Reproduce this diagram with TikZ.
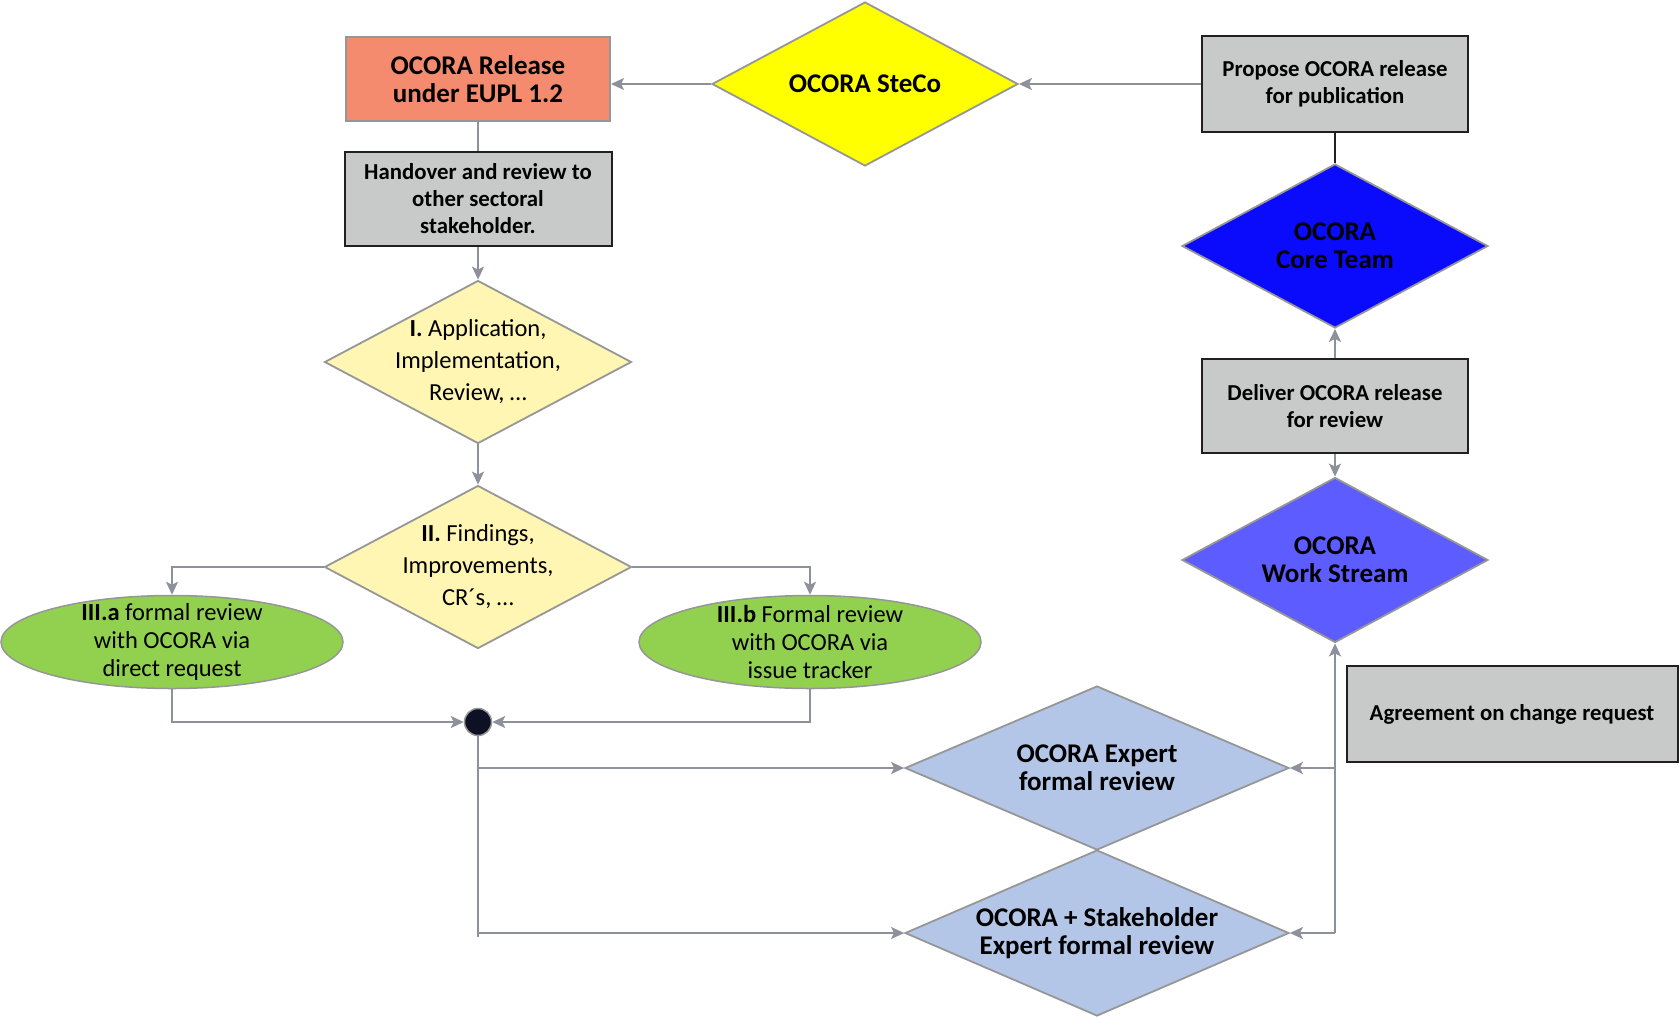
\documentclass[tikz,border=0pt]{standalone}
\usepackage{fontspec}
\setmainfont{Carlito}
\usetikzlibrary{shapes.geometric,arrows.meta}
\definecolor{ocorasalmon}{RGB}{245,139,110}
\definecolor{ocorayellow}{RGB}{255,255,0}
\definecolor{ocoragrey}{RGB}{200,201,201}
\definecolor{ocoradark}{RGB}{35,31,32}
\definecolor{ocoracore}{RGB}{10,10,252}
\definecolor{ocorastream}{RGB}{92,92,255}
\definecolor{ocoraexpert}{RGB}{180,198,231}
\definecolor{ocorapale}{RGB}{255,246,180}
\definecolor{ocoragreen}{RGB}{146,208,80}
\definecolor{ocoraline}{RGB}{140,145,156}
\definecolor{ocorarim}{RGB}{150,150,150}
\definecolor{ocoradot}{RGB}{14,16,36}

\begin{document}
\begin{tikzpicture}[x=1pt, y=-1pt,
    bigbold/.style={font=\fontsize{27}{28}\selectfont\bfseries},
    smallbold/.style={font=\fontsize{22.8}{27}\selectfont\bfseries},
    plaintext/.style={font=\fontsize{24.5}{32}\selectfont},
    greybox/.style={draw=ocoradark, line width=2pt, fill=ocoragrey, align=center, inner sep=0pt, smallbold},
    decision/.style={diamond, draw=ocorarim, line width=1.8pt, align=center, inner sep=-6pt},
    track/.style={ellipse, draw=ocorarim, line width=1.5pt, fill=ocoragreen, align=center, inner sep=-12pt,
        minimum width=342, minimum height=93, font=\fontsize{24.5}{28}\selectfont},
    flow/.style={draw=ocoraline, line width=2pt, -{Stealth[length=13pt, width=12pt, inset=3pt]}},
    link/.style={draw=ocoraline, line width=2pt}]
    \useasboundingbox (0,0) rectangle (1680,1018);

    % Publication path
    \node[draw=ocorarim, line width=2pt, fill=ocorasalmon, align=center, inner sep=0pt,
        minimum width=264, minimum height=84, bigbold] (release) at (478,79) {OCORA Release\\under EUPL 1.2};
    \node[decision, fill=ocorayellow, aspect=1.87, minimum width=306, minimum height=164, bigbold] (steco) at (865,84) {OCORA SteCo};
    \node[greybox, minimum width=266, minimum height=96] (propose) at (1335,84) {Propose OCORA release\\for publication};
    \node[decision, fill=ocoracore, aspect=1.87, minimum width=306, minimum height=164, bigbold] (core) at (1335,246) {OCORA\\Core Team};
    \node[greybox, minimum width=266, minimum height=94] (deliver) at (1335,406) {Deliver OCORA release\\for review};
    \node[decision, fill=ocorastream, aspect=1.87, minimum width=306, minimum height=165, bigbold] (ws) at (1335,560) {OCORA\\Work Stream};
    \node[greybox, minimum width=331, minimum height=96] (agree) at (1512,714) {Agreement on change request};

    % Review path
    \node[greybox, minimum width=267, minimum height=94] (handover) at (478,199) {Handover and review to\\other sectoral\\stakeholder.};
    \node[decision, fill=ocorapale, aspect=1.88, minimum width=307, minimum height=163, plaintext] (appl) at (478,362)
        {\textbf{I.} Application,\\Implementation,\\Review, …};
    \node[decision, fill=ocorapale, aspect=1.88, minimum width=307, minimum height=163, plaintext] (find) at (478,567)
        {\textbf{II.} Findings,\\Improvements,\\CR´s, …};
    \node[track] (ella) at (172,642) {\textbf{III.a} formal review\\with OCORA via\\direct request};
    \node[track] (ellb) at (810,642) {\textbf{III.b} Formal review\\with OCORA via\\issue tracker};
    \node[circle, draw=ocorarim, line width=1.5pt, fill=ocoradot, minimum size=27, inner sep=0pt] (dot) at (478,722) {};
    \node[decision, fill=ocoraexpert, aspect=2.34, minimum width=384, minimum height=164, bigbold] (expert) at (1097,768)
        {OCORA Expert\\formal review};
    \node[decision, fill=ocoraexpert, aspect=2.31, minimum width=384, minimum height=166, bigbold] (stake) at (1097,933)
        {OCORA + Stakeholder\\Expert formal review};
    \coordinate (dotend) at (478,937);
    \coordinate (rturn) at (ws.south |- stake.east);

    % Connectors
    \draw[flow] (propose.west) -- (steco.east);
    \draw[flow] (steco.west) -- (steco.west -| release.east);
    \draw[link] (release) -- (handover);
    \draw[flow] (handover) -- (appl);
    \draw[flow] (appl) -- (find);
    \draw[flow] (find.west) -| (ella.north);
    \draw[flow] (find.east) -| (ellb.north);
    \draw[flow] (ella.south) |- (dot.west);
    \draw[flow] (ellb.south) |- (dot.east);
    \draw[link] (dot.south) -- (dotend);
    \draw[flow] (dot |- expert.west) -- (expert.west);
    \draw[flow] (dot |- stake.west) -- (stake.west);
    \draw[ocoradark, line width=2pt] (propose) -- (core);
    \draw[flow] (deliver) -- (core);
    \draw[flow] (deliver) -- (ws);
    \draw[flow] (rturn) -- (ws.south);
    \draw[flow] (rturn) -- (stake.east);
    \draw[flow] (ws.south |- expert.east) -- (expert.east);
\end{tikzpicture}
\end{document}
